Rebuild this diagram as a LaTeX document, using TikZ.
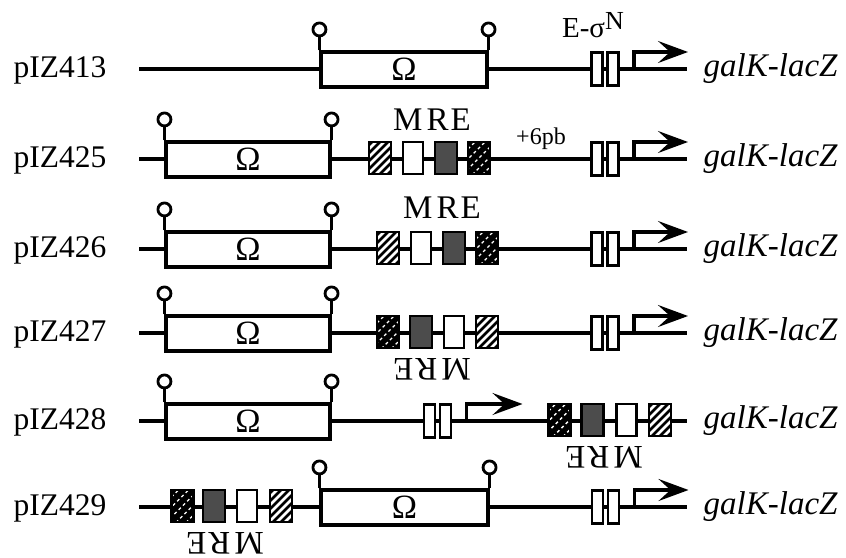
\documentclass[tikz,border=0pt]{standalone}
\usepackage{fontspec}
\setmainfont{Liberation Serif}
\usetikzlibrary{arrows.meta,calc}
\begin{document}
\begin{tikzpicture}[x=1pt,y=-1pt, line width=3.3pt,
 lab/.style={font=\fontsize{31.5}{31.5}\selectfont, anchor=base west, inner sep=0},
 gene/.style={font=\fontsize{33}{33}\selectfont\itshape, anchor=base west, inner sep=0},
 omegabox/.style={draw, fill=white, minimum height=35pt, inner sep=0, line width=3.1pt, font=\fontsize{34}{34}\selectfont},
 prom/.style={draw, fill=white, minimum width=11pt, minimum height=33pt, inner sep=0, line width=2.9pt},
 mre/.style={draw, minimum width=22pt, minimum height=32pt, inner sep=0, line width=2.9pt},
 mwhite/.style={mre, fill=white, minimum width=20pt},
 mgray/.style={mre, fill=black!70},
 mhatch/.style={mre, fill=white, path picture={
   \foreach \k in {-5,...,5}{\draw[black,line width=2.6pt] ([xshift={\k*8pt-25pt},yshift=-25pt]path picture bounding box.center) -- ++(50pt,50pt);}}},
 mblack/.style={mre, fill=black, path picture={
   \foreach \k in {-3,...,3}{\draw[white,line width=1.4pt,dash pattern=on 3pt off 3pt] ([xshift={\k*10pt-25pt},yshift=-25pt]path picture bounding box.center) -- ++(50pt,50pt);}}},
 lolli/.style={draw, fill=white, circle, minimum size=13pt, inner sep=0, line width=2.8pt},
 mrelab/.style={font=\fontsize{33}{33}\selectfont, inner sep=0},
 tss/.style={-{Stealth[length=30pt,width=22pt,inset=12pt]}, line width=3.1pt}
]
\useasboundingbox (0,0) rectangle (846,557);
\path[fill=white] (0,0) rectangle (846,557);

\newcommand\omegaunit[4]{% name, center x, y, width
  \node[omegabox, minimum width=#4] (#1) at (#2,#3) {Ω};
  \node[lolli] (#1l) at ([yshift=21pt]#1.north west) {};
  \node[lolli] (#1r) at ([yshift=21pt]#1.north east) {};
  \draw (#1.north west) -- (#1l.south);
  \draw (#1.north east) -- (#1r.south);
}
\newcommand\promoterunit[4]{% name, first box x, y, tip offset
  \node[prom] (#1a) at (#2,#3) {};
  \node[prom] (#1b) at ([xshift=16pt]#1a.center) {};
  \coordinate (#1s) at ([xshift=37pt]#1a.center);
  \coordinate (#1t) at ([xshift=#4,yshift=17pt]#1a.center);
  \draw[tss] (#1s) |- (#1t);
}

% ---------- row 1: pIZ413
\coordinate (s1) at (139,69); \coordinate (e1) at (687,69);
\draw (s1) -- (e1);
\omegaunit{o1}{404}{69.5}{166pt}
\promoterunit{p1}{597}{69}{91pt}
\node[font=\fontsize{29}{29}\selectfont, anchor=base, inner sep=0] (esig) at (593,37) {E-σ\raisebox{8pt}{\fontsize{26}{26}\selectfont N}};
\node[lab] (l1) at (12,77) {pIZ413};
\node[gene] (g1) at (702,76) {galK-lacZ};

% ---------- row 2: pIZ425
\coordinate (s2) at (139,159); \coordinate (e2) at (687,159);
\draw (s2) -- (e2);
\omegaunit{o2}{248}{159.5}{164pt}
\node[mhatch] (m2a) at (380,158) {};
\node[mwhite] (m2b) at (413,158) {};
\node[mgray]  (m2c) at (446,158) {};
\node[mblack] (m2d) at (479,158) {};
\node[mrelab] (mre2) at (432,120) {M\kern4pt R\kern2pt E};
\node[font=\fontsize{24}{24}\selectfont, anchor=base, inner sep=0] (pb) at (541,144) {+6pb};
\promoterunit{p2}{597}{159}{91pt}
\node[lab] (l2) at (12,167) {pIZ425};
\node[gene] (g2) at (702,166) {galK-lacZ};

% ---------- row 3: pIZ426
\coordinate (s3) at (139,249); \coordinate (e3) at (687,249);
\draw (s3) -- (e3);
\omegaunit{o3}{248}{249.5}{164pt}
\node[mhatch] (m3a) at (388,248) {};
\node[mwhite] (m3b) at (421,248) {};
\node[mgray]  (m3c) at (454,248) {};
\node[mblack] (m3d) at (487,248) {};
\node[mrelab] (mre3) at (442,208) {M\kern4pt R\kern2pt E};
\promoterunit{p3}{597}{249}{91pt}
\node[lab] (l3) at (12,257) {pIZ426};
\node[gene] (g3) at (702,256) {galK-lacZ};

% ---------- row 4: pIZ427
\coordinate (s4) at (139,333); \coordinate (e4) at (687,333);
\draw (s4) -- (e4);
\omegaunit{o4}{248}{333.5}{164pt}
\node[mblack] (m4a) at (388,332) {};
\node[mgray]  (m4b) at (421,332) {};
\node[mwhite] (m4c) at (454,332) {};
\node[mhatch] (m4d) at (487,332) {};
\node[mrelab, rotate=180] (mre4) at (432,369) {M\kern4pt R\kern2pt E};
\promoterunit{p4}{597}{333}{91pt}
\node[lab] (l4) at (12,341) {pIZ427};
\node[gene] (g4) at (702,340) {galK-lacZ};

% ---------- row 5: pIZ428
\coordinate (s5) at (139,421); \coordinate (e5) at (687,421);
\draw (s5) -- (e5);
\omegaunit{o5}{248}{421.5}{164pt}
\promoterunit{p5}{429.5}{421}{93pt}
\node[mblack] (m5a) at (559.5,420) {};
\node[mgray]  (m5b) at (592.5,420) {};
\node[mwhite] (m5c) at (626.5,420) {};
\node[mhatch] (m5d) at (660,420) {};
\node[mrelab, rotate=180] (mre5) at (604,457) {M\kern4pt R\kern2pt E};
\node[lab] (l5) at (12,429) {pIZ428};
\node[gene] (g5) at (702,428) {galK-lacZ};

% ---------- row 6: pIZ429
\coordinate (s6) at (139,507); \coordinate (e6) at (687,507);
\draw (s6) -- (e6);
\node[mblack] (m6a) at (182.5,506) {};
\node[mgray]  (m6b) at (214,506) {};
\node[mwhite] (m6c) at (247,506) {};
\node[mhatch] (m6d) at (281,506) {};
\node[mrelab, rotate=180] (mre6) at (225,543) {M\kern4pt R\kern2pt E};
\omegaunit{o6}{404.5}{507.5}{167pt}
\promoterunit{p6}{597.5}{507}{91pt}
\node[lab] (l6) at (12,515) {pIZ429};
\node[gene] (g6) at (702,514) {galK-lacZ};
\end{tikzpicture}
\end{document}
